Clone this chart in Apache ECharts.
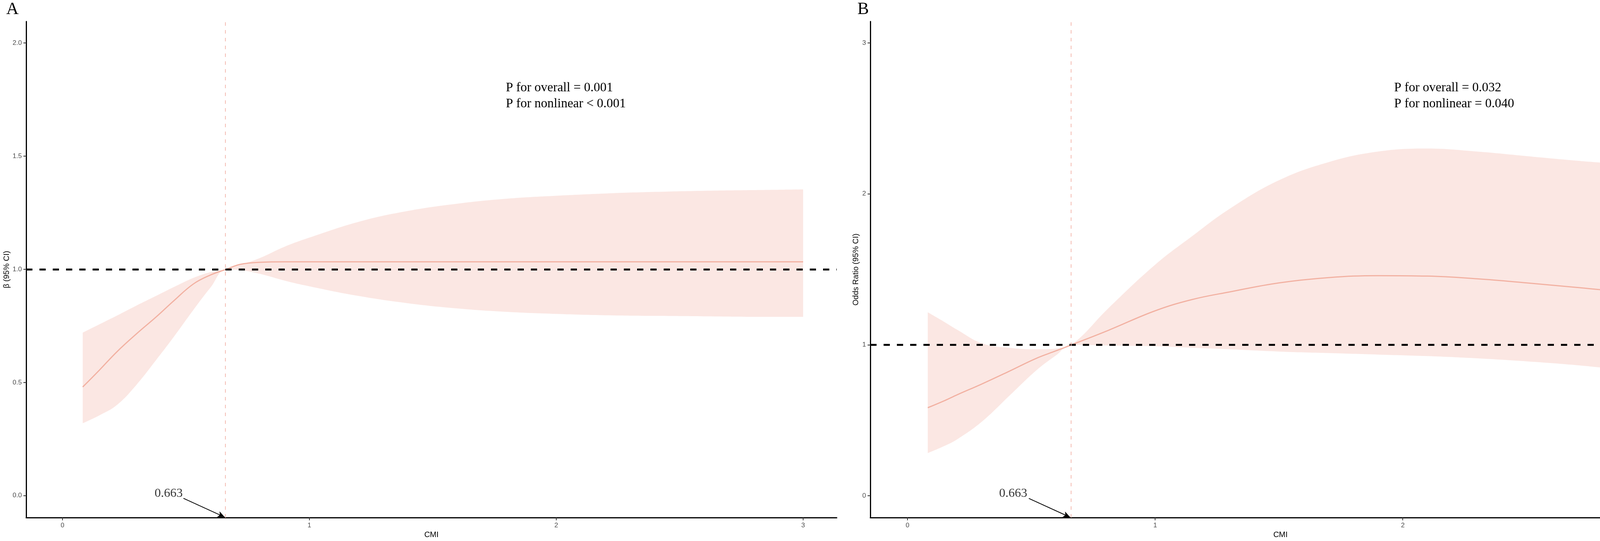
<!DOCTYPE html>
<html>
<head>
<meta charset="utf-8">
<script src="https://cdn.jsdelivr.net/npm/echarts@6/dist/echarts.min.js"></script>
<style>
html, body { margin: 0; padding: 0; background: #fff; }
#chart { width: 4328px; height: 1386px; }
</style>
</head>
<body>
<div id="chart"></div>
<script>
// panel A: beta (95% CI) against CMI
var cmiA   = [0.082, 0.15, 0.22, 0.3, 0.38, 0.45, 0.53, 0.6, 0.663, 0.72, 0.8, 0.9, 1.0, 1.2, 1.4, 1.6, 1.8, 2.0, 2.2, 2.4, 2.6, 2.8, 3.0];
var betaA  = [0.48, 0.555, 0.635, 0.715, 0.79, 0.86, 0.935, 0.975, 1.0, 1.022, 1.031, 1.033, 1.033, 1.033, 1.033, 1.033, 1.033, 1.033, 1.033, 1.033, 1.033, 1.033, 1.033];
var lowerA = [0.32, 0.355, 0.40, 0.49, 0.60, 0.70, 0.82, 0.92, 1.0, 0.997, 0.98, 0.95, 0.925, 0.882, 0.85, 0.827, 0.812, 0.803, 0.797, 0.794, 0.792, 0.79, 0.79];
var upperA = [0.72, 0.757, 0.795, 0.84, 0.883, 0.921, 0.962, 0.988, 1.0, 1.02, 1.05, 1.10, 1.14, 1.21, 1.258, 1.29, 1.312, 1.325, 1.335, 1.342, 1.347, 1.35, 1.353];

// panel B: odds ratio (95% CI) against CMI
var cmiB   = [0.082, 0.15, 0.2, 0.3, 0.41, 0.52, 0.6, 0.663, 0.81, 1.0, 1.15, 1.3, 1.5, 1.7, 1.9, 2.1, 2.3, 2.5, 2.7, 2.85, 3.0];
var orB    = [0.583, 0.63, 0.668, 0.74, 0.824, 0.91, 0.96, 1.0, 1.095, 1.225, 1.30, 1.35, 1.41, 1.445, 1.458, 1.455, 1.437, 1.41, 1.38, 1.357, 1.33];
var lowerB = [0.282, 0.33, 0.373, 0.49, 0.66, 0.83, 0.93, 1.0, 0.995, 0.99, 0.98, 0.97, 0.955, 0.945, 0.935, 0.925, 0.91, 0.89, 0.865, 0.84, 0.81];
var upperB = [1.215, 1.15, 1.10, 1.01, 0.98, 0.97, 0.975, 1.0, 1.24, 1.53, 1.72, 1.90, 2.09, 2.21, 2.28, 2.30, 2.28, 2.25, 2.22, 2.20, 2.18];

var xTicks  = [0, 1, 2, 3];
var yTicksA = [0, 0.5, 1, 1.5, 2];
var yTicksB = [0, 1, 2, 3];
var knot = 0.663;
var refValue = 1;
var pTextA = ['P for overall = 0.001', 'P for nonlinear < 0.001'];
var pTextB = ['P for overall = 0.032', 'P for nonlinear = 0.040'];

var bandColor = '#FBE7E3';
var curveColor = '#F2B1A2';
var sans = 'Liberation Sans, Arial, sans-serif';
var serif = 'Liberation Serif, Times New Roman, serif';

// rows are [value, cmi] so the value column is the one that gets stacked
function rows(xs, ys) {
  return xs.map(function (x, i) { return [ys[i], x]; });
}
function widths(lo, hi) {
  return lo.map(function (v, i) { return +(hi[i] - v).toFixed(4); });
}

function xAxisFor(idx, min, max) {
  return {
    type: 'value', gridIndex: idx, min: min, max: max,
    name: 'CMI', nameLocation: 'middle', nameGap: 34,
    nameTextStyle: { fontFamily: sans, fontSize: 20, color: '#000' },
    axisLine: { onZero: false, lineStyle: { color: '#000', width: 3 } },
    axisTick: { show: true, length: 7, customValues: xTicks, lineStyle: { color: '#333', width: 2 } },
    axisLabel: { customValues: xTicks, margin: 12, fontFamily: sans, fontSize: 17, color: '#4D4D4D' },
    splitLine: { show: false }
  };
}
function yAxisFor(idx, min, max, ticks, title, gap, digits) {
  return {
    type: 'value', gridIndex: idx, min: min, max: max,
    name: title, nameLocation: 'middle', nameGap: gap,
    nameTextStyle: { fontFamily: sans, fontSize: 20, color: '#000' },
    axisLine: { onZero: false, lineStyle: { color: '#000', width: 3 } },
    axisTick: { show: true, length: 7, customValues: ticks, lineStyle: { color: '#333', width: 2 } },
    axisLabel: {
      customValues: ticks, margin: 11, fontFamily: sans, fontSize: 17, color: '#4D4D4D',
      formatter: function (v) { return v.toFixed(digits); }
    },
    splitLine: { show: false }
  };
}

function panelSeries(idx, xs, mid, lo, hi, textPos, arrowFrom, arrowTo) {
  var stackId = 'band' + idx;
  var enc = { x: 1, y: 0 };
  return [
    {
      type: 'line', xAxisIndex: idx, yAxisIndex: idx, stack: stackId, encode: enc,
      data: rows(xs, lo), smooth: 0.4, symbol: 'none', silent: true,
      lineStyle: { width: 0, opacity: 0 }, z: 1
    },
    {
      type: 'line', xAxisIndex: idx, yAxisIndex: idx, stack: stackId, encode: enc,
      data: rows(xs, widths(lo, hi)), smooth: 0.4, symbol: 'none', silent: true,
      lineStyle: { width: 0, opacity: 0 },
      areaStyle: { color: bandColor, opacity: 1 }, z: 1
    },
    {
      type: 'line', xAxisIndex: idx, yAxisIndex: idx, encode: enc,
      data: rows(xs, mid), smooth: 0.4, symbol: 'none', silent: true,
      lineStyle: { color: curveColor, width: 3 }, z: 3,
      markLine: {
        silent: true, symbol: ['none', 'none'], label: { show: false },
        animation: false,
        data: [
          { yAxis: refValue, lineStyle: { color: '#000', width: 5, type: [16, 18] } },
          { xAxis: knot, lineStyle: { color: '#F4BCB2', width: 2, type: [9, 11] } },
          [
            { coord: arrowFrom, symbol: 'none' },
            { coord: arrowTo, symbol: 'arrow', symbolSize: [12, 18], lineStyle: { color: '#000', width: 2, type: 'solid' } }
          ]
        ]
      }
    },
    {
      type: 'scatter', xAxisIndex: idx, yAxisIndex: idx, silent: true,
      data: [textPos], symbolSize: 0,
      label: {
        show: true, position: 'inside', formatter: String(knot),
        fontFamily: serif, fontSize: 32, color: '#000'
      }
    }
  ];
}

var option = {
  backgroundColor: '#fff',
  animation: false,
  grid: [
    { left: 67, top: 55, width: 2075, height: 1271 },
    { left: 2228, top: 55, width: 2100, height: 1271 }
  ],
  xAxis: [xAxisFor(0, -0.147, 3.136), xAxisFor(1, -0.15, 3.162)],
  yAxis: [
    yAxisFor(0, -0.097, 2.095, yTicksA, 'β (95% CI)', 40, 1),
    yAxisFor(1, -0.145, 3.142, yTicksB, 'Odds Ratio (95% CI)', 27, 0)
  ],
  series: [].concat(
    panelSeries(0, cmiA, betaA, lowerA, upperA, [0.43, 0.009], [0.49, -0.012], [0.657, -0.095]),
    panelSeries(1, cmiB, orB, lowerB, upperB, [0.427, 0.013], [0.49, -0.018], [0.657, -0.143])
  ),
  graphic: [
    { type: 'text', z: 100, left: 16, top: 2, style: { text: 'A', fontFamily: serif, fontSize: 44, fill: '#000' } },
    { type: 'text', z: 100, left: 2195, top: 2, style: { text: 'B', fontFamily: serif, fontSize: 44, fill: '#000' } },
    { type: 'text', z: 100, left: 1295, top: 205, style: { text: pTextA.join('\n'), fontFamily: serif, fontSize: 33, lineHeight: 41, fill: '#000' } },
    { type: 'text', z: 100, left: 3569, top: 205, style: { text: pTextB.join('\n'), fontFamily: serif, fontSize: 33, lineHeight: 41, fill: '#000' } }
  ]
};

var myChart = echarts.init(document.getElementById('chart'));
myChart.setOption(option);
</script>
</body>
</html>
